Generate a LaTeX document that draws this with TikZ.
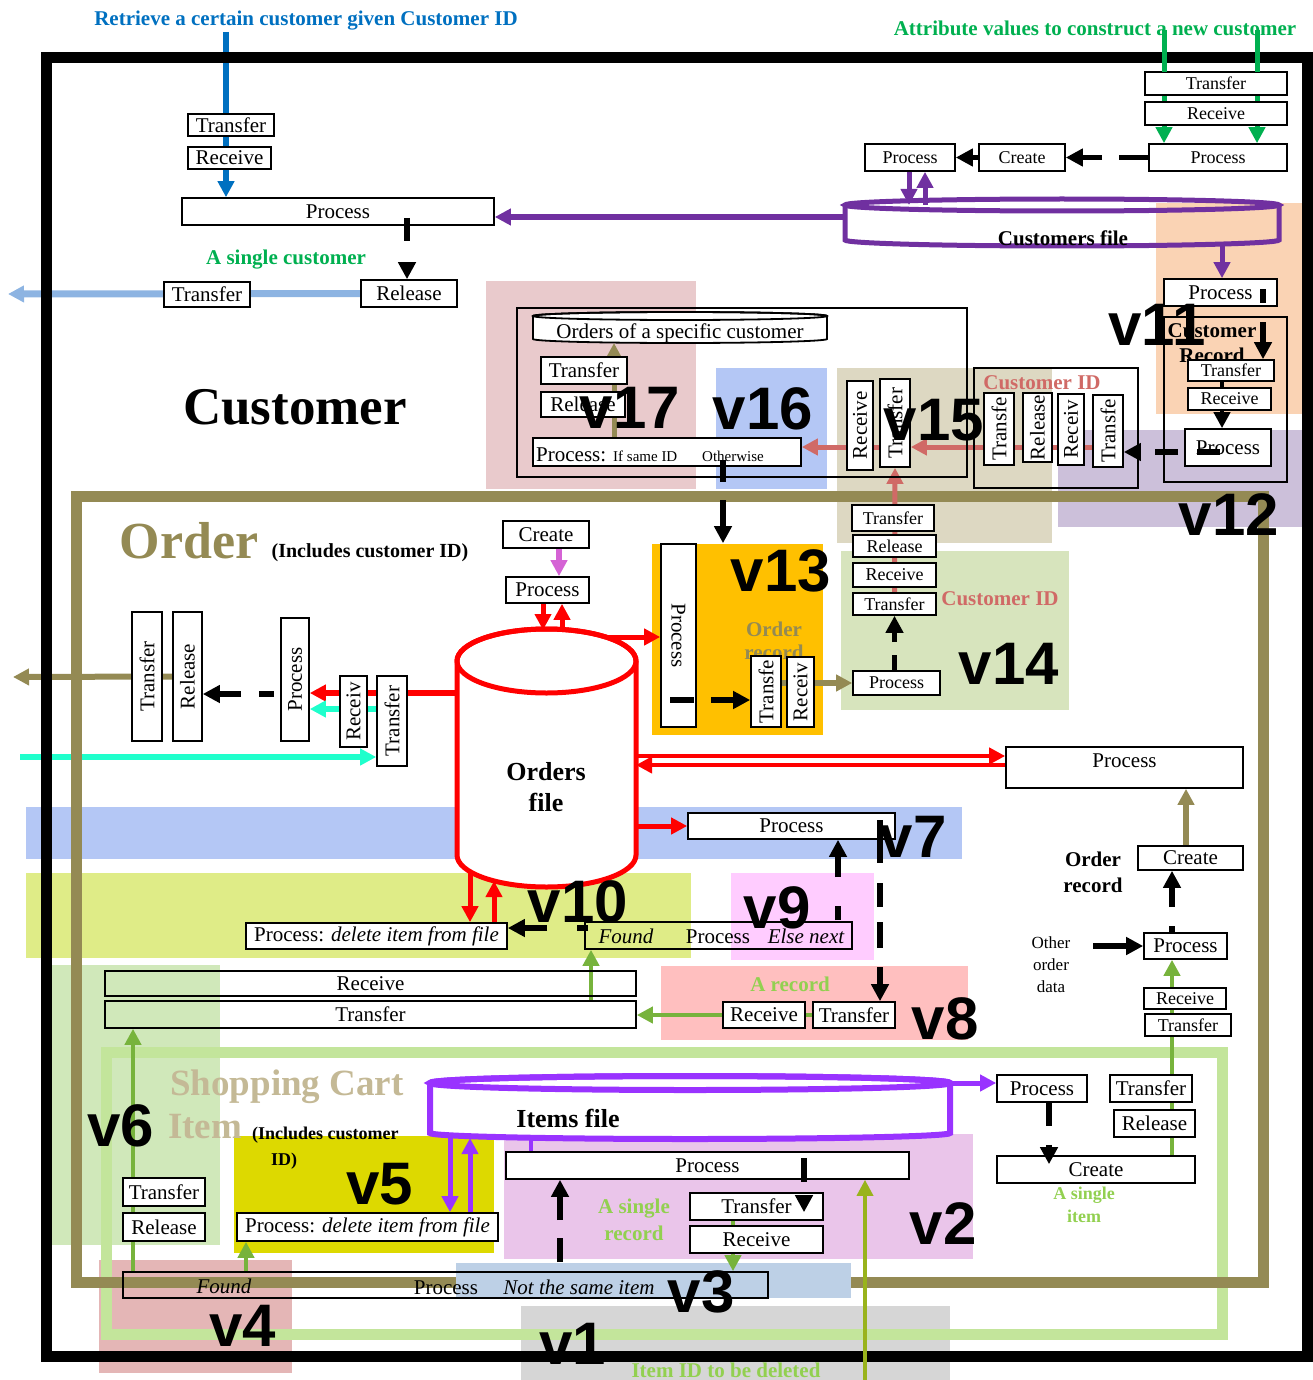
\documentclass[tikz,border=0pt]{standalone}
\usepackage{fontspec}
\setmainfont{Liberation Serif}
\newfontfamily\sansv{Liberation Sans}
\usetikzlibrary{arrows.meta,positioning,calc}

\definecolor{cBlue}{HTML}{0070C0}
\definecolor{cGreen}{HTML}{00B050}
\definecolor{cPurple}{HTML}{7030A0}
\definecolor{cLightBlue}{HTML}{8DB4E2}
\definecolor{cSalmon}{HTML}{D06A66}
\definecolor{cOlive}{HTML}{948A54}
\definecolor{cTan}{HTML}{C4B996}
\definecolor{cLime}{HTML}{77B33C}
\definecolor{cLimeText}{HTML}{92D050}
\definecolor{cItemLine}{HTML}{99B31C}
\definecolor{cViolet}{HTML}{9933FF}
\definecolor{cMagenta}{HTML}{D563D5}
\definecolor{cCyan}{HTML}{1FFFCC}
\definecolor{cFrameGreen}{HTML}{C3E59B}
% zone colours
\definecolor{zvA}{HTML}{D6D6D6}% v1
\definecolor{zvB}{HTML}{EAC5EA}% v2
\definecolor{zvC}{HTML}{BDD0E6}% v3
\definecolor{zvD}{HTML}{E4B6B6}% v4
\definecolor{zvE}{HTML}{DDD900}% v5
\definecolor{zvF}{HTML}{D0E8BA}% v6
\definecolor{zvG}{HTML}{B4C7F5}% v7, v16
\definecolor{zvH}{HTML}{FFBFBF}% v8
\definecolor{zvI}{HTML}{FFCCFF}% v9
\definecolor{zvJ}{HTML}{DFEC87}% v10
\definecolor{zvK}{HTML}{FAD3B4}% v11
\definecolor{zvL}{HTML}{CCC0DA}% v12
\definecolor{zvM}{HTML}{FFC000}% v13
\definecolor{zvN}{HTML}{D7E4BD}% v14
\definecolor{zvO}{HTML}{DDD8C2}% v15
\definecolor{zvQ}{HTML}{E9CACC}% v17

\newcommand\fsz[1]{\fontsize{#1pt}{#1pt}\selectfont}
% box from its corners (pixel coordinates)
\newcommand\boxat[7][]{%
  \pgfmathsetmacro\bxc{(#3+#5)/2}\pgfmathsetmacro\byc{(#4+#6)/2}%
  \pgfmathsetmacro\bwd{#5-#3}\pgfmathsetmacro\bht{#6-#4}%
  \node[box,minimum width=\bwd pt,minimum height=\bht pt,#1] (#2) at (\bxc,\byc) {#7};}
% upright box with turned text
\newcommand\vboxat[7][rotup]{%
  \pgfmathsetmacro\bxc{(#3+#5)/2}\pgfmathsetmacro\byc{(#4+#6)/2}%
  \pgfmathsetmacro\bwd{#5-#3}\pgfmathsetmacro\bht{#6-#4}%
  \node[box,minimum width=\bht pt,minimum height=\bwd pt,#1] (#2) at (\bxc,\byc) {#7};}

\pgfdeclarelayer{zones}
\pgfdeclarelayer{exits}
\pgfdeclarelayer{frames}
\pgfdeclarelayer{lines}
\pgfsetlayers{zones,exits,frames,lines,main}

\begin{document}
\begin{tikzpicture}[x=1pt,y=-1pt,
  box/.style={draw,line width=1.6pt,fill=white,inner sep=0pt,font=\fsz{21}},
  small/.style={font=\fsz{18}},
  hollow/.style={fill=none},
  rotup/.style={rotate=90},
  rotdown/.style={rotate=-90},
  flow/.style={line width=5pt,-{Triangle[length=16pt,width=16pt]}},
  dashflow/.style={line width=5.5pt,black,-{Triangle[length=17pt,width=17pt]}},
  bigframe/.style={line width=11pt},
  lbl/.style={font=\bfseries\fsz{21}},
  vlabel/.style={font=\sansv\bfseries\fsz{60},inner sep=0pt},
]
\useasboundingbox (0,0) rectangle (1312,1380);

% coloured zones
\begin{pgfonlayer}{zones}
\fill[zvQ] (486,281) rectangle (696,489);
\fill[zvG] (716,368) rectangle (827,489);
\fill[zvO] (837,368) rectangle (1052,543);
\fill[zvK] (1156,203) rectangle (1303,414);
\fill[zvL] (1058,430) rectangle (1303,527);
\fill[zvM] (652,544) rectangle (823,735);
\fill[zvN] (841,551) rectangle (1069,710);
\fill[zvG] (26,807) rectangle (962,859);
\fill[zvJ] (26,873) rectangle (691,958);
\fill[zvI] (731,873) rectangle (874,960);
\fill[zvH] (661,966) rectangle (968,1040);
\fill[zvF] (52,965) rectangle (220,1245);
\fill[zvE] (234,1136) rectangle (494,1253);
\fill[zvB] (504,1134) rectangle (973,1259);
\fill[zvD] (99,1260) rectangle (292,1373);
\fill[zvA] (521,1306) rectangle (950,1380);
\end{pgfonlayer}

% frames
\begin{pgfonlayer}{frames}
\draw[cFrameGreen,bigframe] (106,1052) rectangle (1222,1334);
\draw[cOlive,bigframe] (76,496) rectangle (1263,1282);
\draw[black,bigframe] (46,57.5) rectangle (1307,1356);
\end{pgfonlayer}

% points on the files and arrow ends
\coordinate (blueTop) at (226,32);
\coordinate (attrInA) at (1164,30);
\coordinate (attrInB) at (1257,30);
\coordinate (custExit) at (8,294);
\coordinate (ordExit) at (13,677);
\coordinate (cyanIn) at (20,757);
\coordinate (itemIn) at (865,1380);
\coordinate (cfWest) at (845,217);
\coordinate (cfInA) at (909,205);
\coordinate (cfInB) at (925,205);
\coordinate (cfBot) at (1222,246);
\coordinate (spcBot) at (614,343);
\coordinate (ofTopA) at (543,630);
\coordinate (ofTopB) at (562,630);
\coordinate (ofNE) at (600,637);
\coordinate (ofLeft) at (457,693);
\coordinate (ofRightA) at (636,756);
\coordinate (ofRightB) at (636,765);
\coordinate (ofE) at (636,826);
\coordinate (ofBotA) at (470,872);
\coordinate (ofBotB) at (494,881);
\coordinate (itTopR) at (951,1083);
\coordinate (itBotA) at (450,1136);
\coordinate (itBotB) at (470,1138);
\coordinate (itBotC) at (531,1139);
\coordinate (custBar) at (407,218);
\coordinate (v11Bar) at (1263,289);
\coordinate (v11Bar2) at (1220,452);
\coordinate (v17Bar) at (723,460);
\coordinate (v13Bar) at (670,700);
\coordinate (v7Bar) at (880,820);
\coordinate (v9Bar) at (838,920);
\coordinate (v10Bar) at (588,928);
\coordinate (v2Bar) at (804,1158);
\coordinate (v3Up) at (560,1262);
\coordinate (ordDash) at (281,694);
\coordinate (otherData) at (1093,946);
\coordinate (limeUp) at (1172,1156);
\coordinate (rcvUp) at (591,1000);
\coordinate (v6Up) at (133,1272);
\coordinate (v5Up) at (246,1272);
\coordinate (cidLine) at (1093,447);
\coordinate (cyanMid) at (377,709);

% files
\draw[cPurple,line width=5pt] (845,205) -- (845,240) arc(180:0:217 and 6) -- (1279,205);
\draw[cPurple,line width=5pt] (1062,205) ellipse (217 and 6);
\filldraw[fill=white,draw=black,line width=1.8pt] (533,316) -- (533,339) arc(180:0:147 and 4) -- (827,316) arc(0:-180:147 and 4) -- cycle;
\draw[black,line width=1.8pt] (680,316) ellipse (147 and 4);
\filldraw[fill=white,draw=red,line width=5pt] (457,661) -- (457,855) arc(180:0:89.5 and 32) -- (636,661) arc(0:-180:89.5 and 32) -- cycle;
\draw[red,line width=5pt] (546.5,661) ellipse (89.5 and 32);
\filldraw[fill=white,draw=cViolet,line width=6pt] (430,1083) -- (430,1133) arc(180:0:260 and 6) -- (950,1083) arc(0:-180:260 and 7) -- cycle;
\draw[cViolet,line width=6pt] (690,1083) ellipse (260 and 7);

% texts lying under boxes
\node[lbl,anchor=base] (crLbl1) at (1212,337) {Customer};
\node[lbl,anchor=base] (crLbl2) at (1212,362) {Record};
\node[lbl,text=cOlive,anchor=base] (orLbl1) at (774,636) {Order};
\node[lbl,text=cOlive,anchor=base] (orLbl2) at (774,659) {record};

% Customer
\boxat{custTrf}{188}{114}{274}{136}{Transfer}
\boxat{custRcv}{188}{147}{271}{169}{Receive}
\boxat{custProc}{182}{198}{494}{225}{Process}
\boxat{custRel}{361}{280}{457}{307}{Release}
\boxat{custOut}{164}{282}{250}{307}{Transfer}
\boxat[small]{attrTrf}{1145}{72}{1287}{95}{Transfer}
\boxat[small]{attrRcv}{1145}{102}{1287}{125}{Receive}
\boxat[small]{attrProc}{1149}{144}{1287}{171}{Process}
\boxat[small]{newCreate}{979}{144}{1065}{171}{Create}
\boxat[small]{newProc}{865}{144}{955}{171}{Process}
\boxat{v11Proc}{1164}{279}{1277}{306}{Process}
\boxat[hollow]{crBox}{1164}{317}{1287}{482}{}
\boxat[small]{v11Trf}{1188}{360}{1274}{381}{Transfer}
\boxat[small]{v11Rcv}{1188}{388}{1271}{410}{Receive}
\boxat{v11Proc2}{1185}{429}{1271}{466}{Process}
\boxat[hollow]{cidBox}{974}{368}{1138}{488}{}
\vboxat{cidT1}{984}{393}{1014}{465}{Transfe}
\vboxat{cidRel}{1023}{393}{1052}{462}{Release}
\vboxat{cidRcv}{1058}{394}{1084}{465}{Receiv}
\vboxat{cidT2}{1093}{395}{1123}{467}{Transfe}
\vboxat{v15Rcv}{847}{381}{873}{470}{Receive}
\vboxat{v15Trf}{880}{379}{910}{467}{Transfer}
\boxat[hollow]{v17Box}{517}{308}{967}{477}{}
\boxat{v17Trf}{541}{357}{627}{384}{Transfer}
\boxat{v17Rel}{541}{392}{625}{417}{Release}
\boxat{v17Proc}{533}{438}{801}{466}{}

% Order
\boxat{ordCreate}{503}{521}{589}{548}{Create}
\boxat{ordProc}{506}{577}{589}{603}{Process}
\vboxat{ordT}{132}{612}{162}{741}{Transfer}
\vboxat{ordRel}{173}{612}{202}{741}{Release}
\vboxat{ordProc2}{281}{618}{309}{741}{Process}
\vboxat{ordRcv}{340}{676}{367}{747}{Receiv}
\vboxat{ordT2}{377}{676}{407}{766}{Transfer}
\vboxat[rotdown]{v13Proc}{661}{544}{696}{727}{Process}
\vboxat{v13Trf}{751}{656}{781}{727}{Transfe}
\vboxat{v13Rcv}{787}{657}{814}{727}{Receiv}
\boxat[small]{v14T1}{852}{505}{934}{531}{Transfer}
\boxat[small]{v14Rel}{853}{535}{936}{557}{Release}
\boxat[small]{v14Rcv}{853}{563}{936}{587}{Receive}
\boxat[small]{v14T2}{853}{593}{936}{615}{Transfer}
\boxat[small]{v14Proc}{853}{671}{940}{695}{Process}
\boxat[text depth=14pt]{ordPRight}{1006}{747}{1243}{788}{Process}
\boxat{ordRecCreate}{1138}{846}{1243}{870}{Create}
\boxat{ordRecProc}{1144}{933}{1227}{959}{Process}
\boxat[small]{ordRecRcv}{1144}{988}{1226}{1009}{Receive}
\boxat[small]{ordRecTrf}{1145}{1014}{1231}{1036}{Transfer}
\boxat{v7Proc}{688}{813}{895}{839}{Process}
\boxat[hollow]{foundBox}{585}{922}{852}{949}{}
\boxat{delItemA}{246}{923}{507}{949}{Process: \textit{delete item from file}}
\boxat[hollow]{v10Rcv}{105}{971}{636}{996}{Receive}
\boxat[hollow]{v10Trf}{105}{1001}{636}{1028}{Transfer}
\boxat{v8Rcv}{723}{1002}{805}{1028}{Receive}
\boxat{v8Trf}{813}{1002}{895}{1028}{Transfer}

% Shopping Cart Item
\boxat{scTrf}{123}{1178}{205}{1206}{Transfer}
\boxat{scRel}{123}{1213}{205}{1241}{Release}
\boxat{delItemB}{237}{1213}{498}{1241}{Process: \textit{delete item from file}}
\boxat[hollow]{scFound}{123}{1272}{768}{1298}{}
\boxat{itProc}{997}{1075}{1087}{1102}{Process}
\boxat{scTrf2}{1110}{1075}{1192}{1102}{Transfer}
\boxat{scRel2}{1114}{1110}{1195}{1137}{Release}
\boxat{scCreate}{997}{1156}{1195}{1183}{Create}
\boxat{v2Proc}{506}{1152}{909}{1179}{Process}
\boxat{v2Trf}{690}{1193}{823}{1220}{Transfer}
\boxat{v2Rcv}{690}{1226}{823}{1253}{Receive}

% lines that cross the outer frame
\begin{pgfonlayer}{exits}
\draw[flow,cBlue,line width=5.5pt] (blueTop) -- (blueTop |- custProc.north);
\draw[flow,cLightBlue,line width=7pt] (custRel.west) -- (custExit);
\draw[flow,cGreen] (attrInA) -- (attrInA |- attrProc.north);
\draw[flow,cGreen] (attrInB) -- (attrInB |- attrProc.north);
\draw[flow,cOlive,line width=6pt] (ordRel.north) -- (ordExit);
\draw[flow,cCyan,line width=6pt] (cyanIn) -- (cyanIn -| ordT2.north);
\end{pgfonlayer}

% lines under the boxes
\begin{pgfonlayer}{lines}
\fill[zvC] (456,1263) rectangle (851,1298);
\draw[flow,cPurple,line width=6pt] (cfWest) -- (cfWest -| custProc.east);
\draw[flow,cPurple] (newProc.south -| cfInA) -- (cfInA);
\draw[flow,cPurple] (cfInB) -- (newProc.south -| cfInB);
\draw[flow,cPurple] (cfBot) -- (cfBot |- v11Proc.north);
\draw[flow,black,line width=4.5pt] ([xshift=-9pt]v11Trf.south) -- ([xshift=-9pt]v11Trf.south |- v11Proc2.north);
\draw[flow,cSalmon] (cidLine) -- (cidLine -| v15Trf.south);
\draw[flow,cSalmon] (cidLine -| v15Trf.north) -- (cidLine -| v17Proc.east);
\draw[flow,cSalmon] (v14T2.center) -- (v15Trf.west);
\draw[flow,cOlive] (v17Proc.north -| spcBot) -- (spcBot);
\draw[flow,cMagenta,line width=6pt] ([xshift=13pt]ordCreate.south) -- ([xshift=13pt]ordCreate.south |- ordProc.north);
\draw[flow,red] (ordProc.south -| ofTopA) -- (ofTopA);
\draw[flow,red] (ofTopB) -- (ordProc.south -| ofTopB);
\draw[flow,red] (ofNE) -- (ofNE -| v13Proc.south);
\draw[flow,red,line width=6pt] (ofLeft) -- (ofLeft -| ordProc2.south);
\draw[flow,cCyan,line width=6pt] (cyanMid) -- (cyanMid -| ordProc2.south);
\draw[flow,red,line width=4pt] (ofRightA) -- (ofRightA -| ordPRight.west);
\draw[flow,red,line width=4pt] (ofRightB -| ordPRight.west) -- (ofRightB);
\draw[flow,cOlive,line width=6pt] ([xshift=-4.5pt]ordRecCreate.north) -- ([xshift=-4.5pt]ordRecCreate.north |- ordPRight.south);
\draw[flow,cLime,line width=4.5pt] (limeUp) -- (limeUp |- ordRecProc.south);
\draw[flow,red] (ofE) -- (ofE -| v7Proc.west);
\draw[flow,red] (ofBotA) -- (ofBotA |- delItemA.north);
\draw[flow,red] (delItemA.north -| ofBotB) -- (ofBotB);
\draw[flow,cLime,line width=4.5pt] (rcvUp) -- (rcvUp |- foundBox.south);
\draw[flow,cLime,line width=4.5pt] (v8Trf.center) -- (v8Trf.center -| v10Trf.east);
\draw[flow,cLime,line width=4.5pt] (v6Up) -- (v6Up |- v10Trf.south);
\draw[flow,cLime,line width=4.5pt] (v5Up) -- (v5Up |- delItemB.south);
\draw[flow,cViolet] (itBotA) -- (itBotA |- delItemB.north);
\draw[flow,cViolet] (delItemB.north -| itBotB) -- (itBotB);
\draw[flow,cViolet] (itTopR) -- (itTopR -| itProc.west);
\draw[cViolet,line width=4pt] (itBotC) -- (itBotC |- v2Proc.north);
\draw[flow,cLime,line width=4.5pt] ([xshift=-23.5pt]v2Trf.center) -- ([xshift=-23.5pt]v2Trf.center |- scFound.north);
\draw[flow,cOlive,line width=6pt] (v13Trf.center |- v14Proc.west) -- (v14Proc.west);
\draw[flow,cItemLine,line width=3.5pt] (itemIn) -- (itemIn |- v2Proc.south);
\end{pgfonlayer}

% black arrows, solid and dashed
\draw[dashflow] (newCreate.west) -- (newProc.east);
\draw[dashflow,dash pattern=on 29pt off 17pt on 60pt off 0pt] (attrProc.west) -- (newCreate.east);
\draw[dashflow,dash pattern=on 23pt off 21pt on 60pt off 0pt] (custBar) -- (custBar |- custRel.north);
\draw[dashflow,dash pattern=on 14pt off 19pt on 60pt off 0pt] (v11Bar) -- (v11Bar |- v11Trf.north);
\draw[dashflow,dash pattern=on 23pt off 19pt] (v11Bar2) -- (v11Bar2 -| cidT2.south);
\draw[dashflow,dash pattern=on 22pt off 18pt on 60pt off 0pt] (v17Bar) -- (v17Bar |- v13Proc.west);
\draw[dashflow,dash pattern=on 0pt off 7pt on 15pt off 18pt on 60pt off 0pt] (ordDash) -- (ordDash -| ordRel.south);
\draw[dashflow,dash pattern=on 24pt off 17pt on 60pt off 0pt] (v13Bar) -- (v13Bar -| v13Trf.north);
\draw[dashflow,dash pattern=on 15pt off 13pt on 60pt off 0pt] (v14Proc.north -| v14T2.south) -- (v14T2.south);
\draw[dashflow] (otherData) -- (otherData -| ordRecProc.west);
\draw[dashflow,dash pattern=on 6pt off 19pt on 60pt off 0pt] ([xshift=-13.5pt]ordRecProc.north) -- ([xshift=-13.5pt]ordRecProc.north |- ordRecCreate.south);
\draw[dashflow,dash pattern=on 14pt off 29pt on 60pt off 0pt] (v9Bar) -- (v9Bar |- v7Proc.south);
\draw[dashflow,dash pattern=on 43pt off 20pt on 24pt off 15pt on 26pt off 19pt on 60pt off 0pt] (v7Bar) -- (v7Bar |- v8Trf.north);
\draw[dashflow,dash pattern=on 11pt off 30pt on 60pt off 0pt] (v10Bar) -- (v10Bar -| delItemA.east);
\draw[dashflow,dash pattern=on 23pt off 19pt] ([xshift=7pt]itProc.south) -- ([xshift=7pt,yshift=-9pt]itProc.south |- scCreate.north);
\draw[dashflow,dash pattern=on 24pt off 20pt] (v2Bar) -- ([yshift=-20pt]v2Trf.north -| v2Bar);
\draw[dashflow,dash pattern=on 24pt off 18pt on 60pt off 0pt] (v3Up) -- (v3Up |- v2Proc.south);

% texts
\node[lbl,text=cBlue,anchor=base] (retrTitle) at (306,26) {Retrieve a certain customer given Customer ID};
\node[lbl,text=cGreen,anchor=base] (attrTitle) at (1095,36) {Attribute values to construct a new customer};
\draw[cGreen,line width=5pt] (attrInA) -- ++(0,42) (attrInB) -- ++(0,42);
\node[lbl,text=cGreen,anchor=base] (singleCust) at (286,265) {A single customer};
\node[font=\bfseries\fsz{53},anchor=base] (custTitle) at (295,424) {Customer};
\node[lbl,anchor=base] (cfLbl) at (1063,245) {Customers file};
\node[lbl,text=cSalmon,anchor=base] (cidLbl) at (1042,389) {Customer ID};
\node[font=\fsz{21},anchor=base] (spcLbl) at (680,338) {Orders of a specific customer};
\node[font=\fsz{21},anchor=base west,inner sep=0pt] (v17Txt) at (536,461) {Process: {\fsz{15}If same ID}};
\node[font=\fsz{15},anchor=base west,inner sep=0pt] (v17Oth) at (702,461) {Otherwise};
\node[font=\bfseries\fsz{52},text=cOlive,anchor=base] (ordTitle) at (189,558) {Order};
\node[font=\bfseries\fsz{20},anchor=base] (ordSub) at (370,557) {(Includes customer ID)};
\node[font=\bfseries\fsz{26},anchor=base] (ofLbl1) at (546,780) {Orders};
\node[font=\bfseries\fsz{26},anchor=base] (ofLbl2) at (546,811) {file};
\node[lbl,text=cSalmon,anchor=base] (cidLbl2) at (1000,605) {Customer ID};
\node[lbl,anchor=base] (recLbl1) at (1093,866) {Order};
\node[lbl,anchor=base] (recLbl2) at (1093,892) {record};
\node[font=\fsz{17},anchor=base] (odLbl1) at (1051,948) {Other};
\node[font=\fsz{17},anchor=base] (odLbl2) at (1051,970) {order};
\node[font=\fsz{17},anchor=base] (odLbl3) at (1051,992) {data};
\node[font=\itshape\fsz{21},anchor=base] (fdFound) at (626,943) {Found};
\node[font=\fsz{21},anchor=base] (fdProc) at (718,943) {Process};
\node[font=\itshape\fsz{21},anchor=base] (fdElse) at (806,943) {Else next};
\node[lbl,text=cLimeText,anchor=base] (recTag) at (790,991) {A record};
\node[font=\bfseries\fsz{37},text=cTan,anchor=base] (scTitle1) at (287,1095) {Shopping Cart};
\node[font=\bfseries\fsz{37},text=cTan,anchor=base west,inner sep=0pt] (scTitle2) at (168,1138) {Item};
\node[font=\bfseries\fsz{18},anchor=base west,inner sep=0pt] (scSub1) at (252,1139) {(Includes customer};
\node[font=\bfseries\fsz{18},anchor=base west,inner sep=0pt] (scSub2) at (271,1165) {ID)};
\node[font=\bfseries\fsz{26},anchor=base] (itLbl) at (568,1127) {Items file};
\node[lbl,text=cLimeText,anchor=base] (srTag1) at (634,1213) {A single};
\node[lbl,text=cLimeText,anchor=base] (srTag2) at (634,1240) {record};
\node[font=\bfseries\fsz{18},text=cLimeText,anchor=base] (siTag1) at (1084,1199) {A single};
\node[font=\bfseries\fsz{18},text=cLimeText,anchor=base] (siTag2) at (1084,1222) {item};
\node[font=\itshape\fsz{21},anchor=base] (scFd) at (224,1293) {Found};
\node[font=\fsz{21},anchor=base] (scPr) at (446,1294) {Process};
\node[font=\itshape\fsz{21},anchor=base] (scNot) at (579,1294) {Not the same item};
\node[lbl,text=cLimeText,anchor=base] (delTag) at (726,1377) {Item ID to be deleted};

% view labels
\node[vlabel] (vA) at (573,1344) {v1};
\node[vlabel] (vB) at (943,1224) {v2};
\node[vlabel] (vC) at (701,1292) {v3};
\node[vlabel] (vD) at (243,1326) {v4};
\node[vlabel] (vE) at (380,1184) {v5};
\node[vlabel] (vF) at (121,1126) {v6};
\node[vlabel] (vG) at (913,837) {v7};
\node[vlabel] (vH) at (945,1019) {v8};
\node[vlabel] (vI) at (777,908) {v9};
\node[vlabel] (vJ) at (578,902) {v10};
\node[vlabel] (vK) at (1157,325) {v11};
\node[vlabel] (vL) at (1229,515) {v12};
\node[vlabel] (vM) at (781,571) {v13};
\node[vlabel] (vN) at (1009,664) {v14};
\node[vlabel] (vO) at (934,420) {v15};
\node[vlabel] (vP) at (763,409) {v16};
\node[vlabel] (vQ) at (630,408) {v17};
\end{tikzpicture}
\end{document}
